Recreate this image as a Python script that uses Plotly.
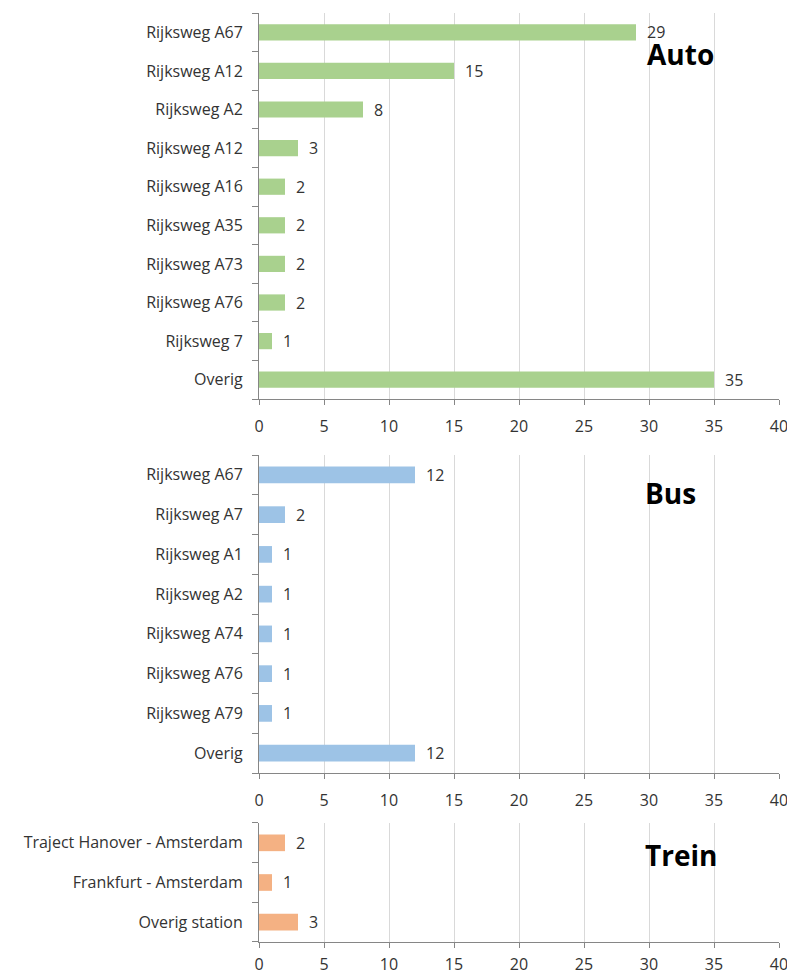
import plotly.graph_objects as go

auto_labels = ["Rijksweg A67", "Rijksweg A12", "Rijksweg A2", "Rijksweg A12", "Rijksweg A16",
               "Rijksweg A35", "Rijksweg A73", "Rijksweg A76", "Rijksweg 7", "Overig"]
auto_values = [29, 15, 8, 3, 2, 2, 2, 2, 1, 35]

bus_labels = ["Rijksweg A67", "Rijksweg A7", "Rijksweg A1", "Rijksweg A2", "Rijksweg A74",
              "Rijksweg A76", "Rijksweg A79", "Overig"]
bus_values = [12, 2, 1, 1, 1, 1, 1, 12]

trein_labels = ["Traject Hanover - Amsterdam", "Frankfurt - Amsterdam", "Overig station"]
trein_values = [2, 1, 3]

x_ticks = [0, 5, 10, 15, 20, 25, 30, 35, 40]

panels = [
    ("Auto", auto_labels, auto_values, "#a9d18e", (0.5845, 1.0), 29.7, 0.57, 8),
    ("Bus", bus_labels, bus_values, "#9dc3e6", (0.1819, 0.5242), 29.5, 0.45, 8),
    ("Trein", trein_labels, trein_values, "#f4b183", (0.0, 0.1281), 29.5, 0.31, 3),
]

FONT = "Open Sans"
TXT = "#333333"
fig = go.Figure()
annotations = []
for i, (title, labels, values, color, dom, tx, ty, standoff) in enumerate(panels):
    n = len(labels)
    suffix = "" if i == 0 else str(i + 1)
    xa, ya = "x" + suffix, "y" + suffix
    pos = list(range(n))
    fig.add_trace(go.Bar(
        x=values, y=pos, orientation="h", marker=dict(color=color, line=dict(width=0)),
        width=0.42, xaxis=xa, yaxis=ya, showlegend=False, hoverinfo="x+y",
    ))
    for p, v in zip(pos, values):
        annotations.append(dict(x=v, y=p, xref=xa, yref=ya, text=str(v), showarrow=False,
                                xanchor="left", yanchor="middle", xshift=9,
                                font=dict(family=FONT, size=16, color=TXT)))
    annotations.append(dict(x=tx, y=ty, xref=xa, yref=ya, text="<b>%s</b>" % title,
                            showarrow=False, xanchor="left", yanchor="middle",
                            font=dict(family=FONT, size=28, color="black")))
    fig.layout["xaxis" + suffix] = dict(
        domain=[0, 1], range=[0, 40], anchor=ya, tickvals=x_ticks, ticktext=[str(t) for t in x_ticks],
        showgrid=True, gridcolor="#d9d9d9", gridwidth=1, zeroline=False, automargin=False,
        showline=True, linecolor="#868686", linewidth=1, ticks="outside", ticklen=5,
        tickcolor="#868686", ticklabelstandoff=standoff,
        tickfont=dict(family=FONT, size=16, color=TXT), fixedrange=True,
    )
    fig.layout["yaxis" + suffix] = dict(
        domain=list(dom), range=[n - 0.5, -0.5], anchor=xa, automargin=False,
        tickmode="array", tickvals=pos, ticktext=labels, ticks="", showgrid=False, zeroline=False,
        showline=True, linecolor="#868686", linewidth=1, ticklabelstandoff=12,
        tickfont=dict(family=FONT, size=16, color=TXT),
        minor=dict(tickmode="array", tickvals=[k - 0.5 for k in range(n + 1)], ticks="outside",
                   ticklen=6, tickcolor="#868686", showgrid=False),
        fixedrange=True,
    )

fig.update_layout(
    width=787, height=966, margin=dict(l=251, r=16, t=5, b=32),
    paper_bgcolor="white", plot_bgcolor="white", annotations=annotations,
    bargap=0.58,
)
fig.write_html("out.html")
